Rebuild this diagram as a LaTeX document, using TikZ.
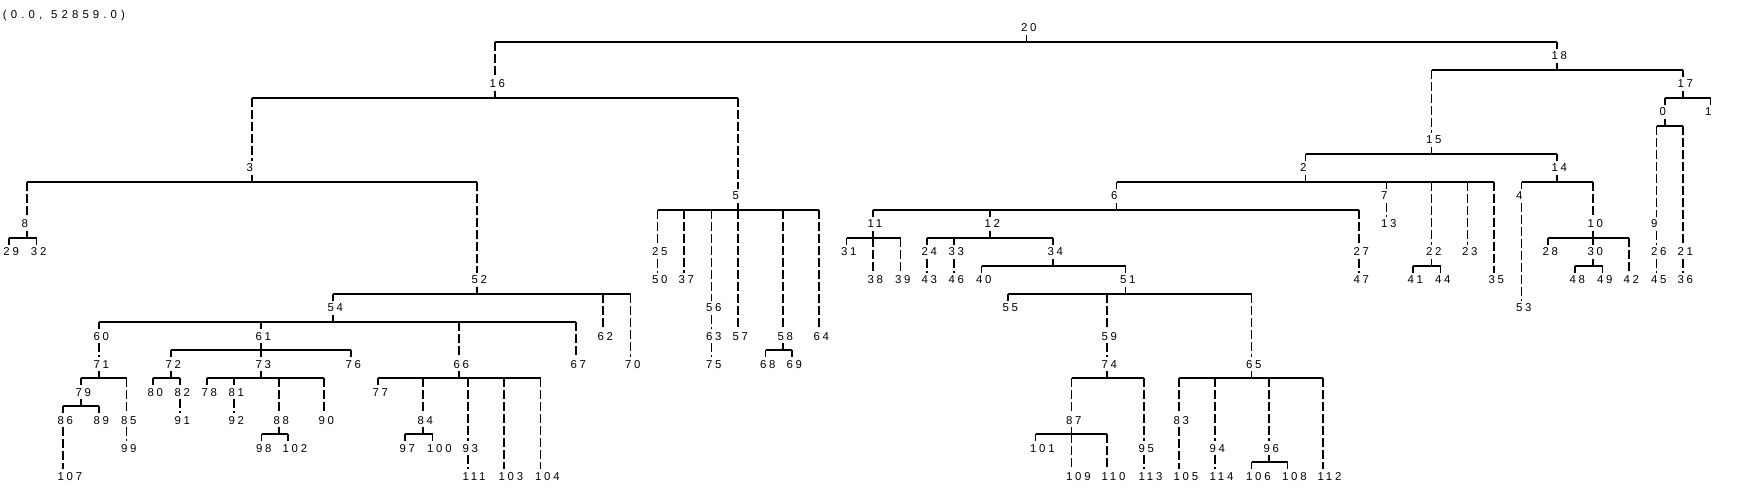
\documentclass[tikz,border=0pt]{standalone}
\usepackage{fontspec}
\newfontfamily\lblfont[LetterSpace=25]{Liberation Sans}
\newfontfamily\hdrfont[LetterSpace=36]{Liberation Sans}
\usetikzlibrary{calc}

% label text starts a little left of its stem
\newcommand{\nlab}[1]{\makebox[0pt][l]{\hspace{-2.75pt}#1}}
% parent with several children: stem, bar, drops
\newcommand{\fork}[2]{%
  \draw[hbar] (n#1.south) -- ++(0,7) coordinate (b#1);
  \foreach \kid in {#2} {%
    \draw[hbar] (b#1) -- (n\kid |- b#1);
    \draw[vlink] (n\kid |- b#1) -- (n\kid.north);}}
% parent with one child
\newcommand{\solo}[2]{\draw[vlink] (n#1.south) -- (n#2.north);}

\tikzset{
  lbl/.style={font=\lblfont\fontsize{5.7pt}{6pt}\selectfont, inner sep=0pt, outer sep=1.5pt, text height=4pt, text depth=0pt},
  hbar/.style={line width=0.65pt, black},
  vlink/.style={line width=0.8pt, black, dash pattern=on 4.5pt off 1.5pt},
}

\begin{document}
\begin{tikzpicture}[x=0.5pt, y=-0.5pt]
        \useasboundingbox (0,0) rectangle (1764,496);
        \fill[white] (0,0) rectangle (1764,496);

        % Header
        \node[lbl, font=\hdrfont\fontsize{5.7pt}{6pt}\selectfont, anchor=west] (hdr) at (0,15) {(0.0,\hspace{4.5pt}52859.0)};

        % Row 0 - 4
        \node[lbl] (n20) at (1026.5,28) {\nlab{20}};
        \node[lbl] (n18) at (1557,56) {\nlab{18}};
        \node[lbl] (n16) at (495,84) {\nlab{16}};
        \node[lbl] (n17) at (1683,84) {\nlab{17}};
        \node[lbl] (n0) at (1665,112) {\nlab{0}};
        \node[lbl] (n1) at (1710.5,112) {\nlab{1}};
        \node[lbl] (n15) at (1431.5,140) {\nlab{15}};

        % Row 5
        \node[lbl] (n3) at (252,168) {\nlab{3}};
        \node[lbl] (n2) at (1305.5,168) {\nlab{2}};
        \node[lbl] (n14) at (1557,168) {\nlab{14}};

        % Row 6
        \node[lbl] (n5) at (738,196) {\nlab{5}};
        \node[lbl] (n6) at (1116.5,196) {\nlab{6}};
        \node[lbl] (n7) at (1386.5,196) {\nlab{7}};
        \node[lbl] (n4) at (1521.5,196) {\nlab{4}};

        % Row 7
        \node[lbl] (n8) at (27,224) {\nlab{8}};
        \node[lbl] (n11) at (873,224) {\nlab{11}};
        \node[lbl] (n12) at (990,224) {\nlab{12}};
        \node[lbl] (n13) at (1386.5,224) {\nlab{13}};
        \node[lbl] (n10) at (1593,224) {\nlab{10}};
        \node[lbl] (n9) at (1656.5,224) {\nlab{9}};

        % Row 8
        \node[lbl] (n29) at (9,252) {\nlab{29}};
        \node[lbl] (n32) at (36.5,252) {\nlab{32}};
        \node[lbl] (n25) at (657.5,252) {\nlab{25}};
        \node[lbl] (n31) at (846.5,252) {\nlab{31}};
        \node[lbl] (n24) at (927,252) {\nlab{24}};
        \node[lbl] (n33) at (954,252) {\nlab{33}};
        \node[lbl] (n34) at (1053,252) {\nlab{34}};
        \node[lbl] (n27) at (1359,252) {\nlab{27}};
        \node[lbl] (n22) at (1431.5,252) {\nlab{22}};
        \node[lbl] (n23) at (1467.5,252) {\nlab{23}};
        \node[lbl] (n28) at (1548,252) {\nlab{28}};
        \node[lbl] (n30) at (1593,252) {\nlab{30}};
        \node[lbl] (n26) at (1656.5,252) {\nlab{26}};
        \node[lbl] (n21) at (1683,252) {\nlab{21}};

        % Row 9
        \node[lbl] (n52) at (477,280) {\nlab{52}};
        \node[lbl] (n50) at (657.5,280) {\nlab{50}};
        \node[lbl] (n37) at (684,280) {\nlab{37}};
        \node[lbl] (n38) at (873,280) {\nlab{38}};
        \node[lbl] (n39) at (900.5,280) {\nlab{39}};
        \node[lbl] (n43) at (927,280) {\nlab{43}};
        \node[lbl] (n46) at (954,280) {\nlab{46}};
        \node[lbl] (n40) at (981.5,280) {\nlab{40}};
        \node[lbl] (n51) at (1125.5,280) {\nlab{51}};
        \node[lbl] (n47) at (1359,280) {\nlab{47}};
        \node[lbl] (n41) at (1413,280) {\nlab{41}};
        \node[lbl] (n44) at (1440.5,280) {\nlab{44}};
        \node[lbl] (n35) at (1494,280) {\nlab{35}};
        \node[lbl] (n48) at (1575,280) {\nlab{48}};
        \node[lbl] (n49) at (1602.5,280) {\nlab{49}};
        \node[lbl] (n42) at (1629,280) {\nlab{42}};
        \node[lbl] (n45) at (1656.5,280) {\nlab{45}};
        \node[lbl] (n36) at (1683,280) {\nlab{36}};

        % Row 10
        \node[lbl] (n54) at (333,308) {\nlab{54}};
        \node[lbl] (n56) at (711.5,308) {\nlab{56}};
        \node[lbl] (n55) at (1008,308) {\nlab{55}};
        \node[lbl] (n53) at (1521.5,308) {\nlab{53}};

        % Row 11
        \node[lbl] (n60) at (99,336) {\nlab{60}};
        \node[lbl] (n61) at (261,336) {\nlab{61}};
        \node[lbl] (n62) at (603,336) {\nlab{62}};
        \node[lbl] (n63) at (711.5,336) {\nlab{63}};
        \node[lbl] (n57) at (738,336) {\nlab{57}};
        \node[lbl] (n58) at (783,336) {\nlab{58}};
        \node[lbl] (n64) at (819,336) {\nlab{64}};
        \node[lbl] (n59) at (1107,336) {\nlab{59}};

        % Row 12
        \node[lbl] (n71) at (99,364) {\nlab{71}};
        \node[lbl] (n72) at (171,364) {\nlab{72}};
        \node[lbl] (n73) at (261,364) {\nlab{73}};
        \node[lbl] (n76) at (351,364) {\nlab{76}};
        \node[lbl] (n66) at (459,364) {\nlab{66}};
        \node[lbl] (n67) at (576,364) {\nlab{67}};
        \node[lbl] (n70) at (630.5,364) {\nlab{70}};
        \node[lbl] (n75) at (711.5,364) {\nlab{75}};
        \node[lbl] (n68) at (765.5,364) {\nlab{68}};
        \node[lbl] (n69) at (792,364) {\nlab{69}};
        \node[lbl] (n74) at (1107,364) {\nlab{74}};
        \node[lbl] (n65) at (1251.5,364) {\nlab{65}};

        % Row 13
        \node[lbl] (n79) at (81,392) {\nlab{79}};
        \node[lbl] (n80) at (153,392) {\nlab{80}};
        \node[lbl] (n82) at (180,392) {\nlab{82}};
        \node[lbl] (n78) at (207,392) {\nlab{78}};
        \node[lbl] (n81) at (234,392) {\nlab{81}};
        \node[lbl] (n77) at (378,392) {\nlab{77}};

        % Row 14
        \node[lbl] (n86) at (63,420) {\nlab{86}};
        \node[lbl] (n89) at (99,420) {\nlab{89}};
        \node[lbl] (n85) at (126.5,420) {\nlab{85}};
        \node[lbl] (n91) at (180,420) {\nlab{91}};
        \node[lbl] (n92) at (234,420) {\nlab{92}};
        \node[lbl] (n88) at (279,420) {\nlab{88}};
        \node[lbl] (n90) at (324,420) {\nlab{90}};
        \node[lbl] (n84) at (423,420) {\nlab{84}};
        \node[lbl] (n87) at (1071.5,420) {\nlab{87}};
        \node[lbl] (n83) at (1179,420) {\nlab{83}};

        % Row 15
        \node[lbl] (n99) at (126.5,448) {\nlab{99}};
        \node[lbl] (n98) at (261.5,448) {\nlab{98}};
        \node[lbl] (n102) at (288,448) {\nlab{102}};
        \node[lbl] (n97) at (405,448) {\nlab{97}};
        \node[lbl] (n100) at (432.5,448) {\nlab{100}};
        \node[lbl] (n93) at (468,448) {\nlab{93}};
        \node[lbl] (n101) at (1035.5,448) {\nlab{101}};
        \node[lbl] (n95) at (1144,448) {\nlab{95}};
        \node[lbl] (n94) at (1215,448) {\nlab{94}};
        \node[lbl] (n96) at (1269,448) {\nlab{96}};

        % Row 16
        \node[lbl] (n107) at (63,476) {\nlab{107}};
        \node[lbl] (n111) at (468,476) {\nlab{111}};
        \node[lbl] (n103) at (504,476) {\nlab{103}};
        \node[lbl] (n104) at (540.5,476) {\nlab{104}};
        \node[lbl] (n109) at (1071.5,476) {\nlab{109}};
        \node[lbl] (n110) at (1107,476) {\nlab{110}};
        \node[lbl] (n113) at (1144,476) {\nlab{113}};
        \node[lbl] (n105) at (1179,476) {\nlab{105}};
        \node[lbl] (n114) at (1215,476) {\nlab{114}};
        \node[lbl] (n106) at (1251.5,476) {\nlab{106}};
        \node[lbl] (n108) at (1287.5,476) {\nlab{108}};
        \node[lbl] (n112) at (1323,476) {\nlab{112}};

        % Links
        \fork{20}{16,18}
        \fork{18}{15,17}
        \fork{16}{3,5}
        \fork{17}{0,1}
        \fork{0}{9,21}
        \fork{15}{2,14}
        \fork{3}{8,52}
        \fork{2}{6,7,22,23,35}
        \fork{14}{4,10}
        \fork{5}{25,37,56,57,58,64}
        \fork{6}{11,12,27}
        \solo{7}{13}
        \solo{4}{53}
        \fork{8}{29,32}
        \fork{11}{31,38,39}
        \fork{12}{24,33,34}
        \fork{10}{28,30,42}
        \solo{9}{26}
        \solo{25}{50}
        \solo{24}{43}
        \solo{33}{46}
        \fork{34}{40,51}
        \solo{27}{47}
        \fork{22}{41,44}
        \fork{30}{48,49}
        \solo{26}{45}
        \solo{21}{36}
        \fork{52}{54,62,70}
        \fork{51}{55,59,65}
        \solo{56}{63}
        \fork{54}{60,61,66,67}
        \fork{58}{68,69}
        \solo{63}{75}
        \solo{59}{74}
        \solo{60}{71}
        \fork{61}{72,73,76}
        \fork{66}{77,84,93,103,104}
        \fork{74}{87,95}
        \fork{65}{83,94,96,112}
        \fork{71}{79,85}
        \fork{72}{80,82}
        \fork{73}{78,81,88,90}
        \fork{79}{86,89}
        \solo{82}{91}
        \solo{81}{92}
        \fork{88}{98,102}
        \fork{84}{97,100}
        \fork{87}{101,109,110}
        \solo{83}{105}
        \solo{85}{99}
        \solo{86}{107}
        \solo{93}{111}
        \solo{95}{113}
        \solo{94}{114}
        \fork{96}{106,108}
\end{tikzpicture}
\end{document}
